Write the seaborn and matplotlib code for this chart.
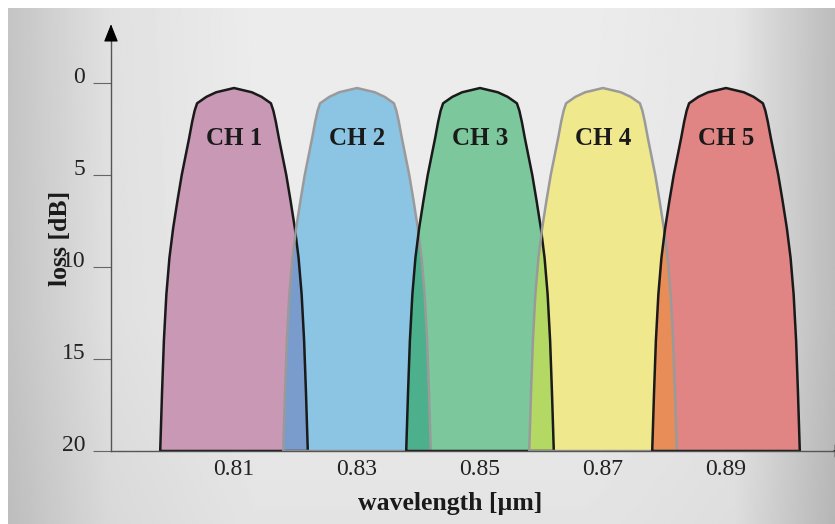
import numpy as np
import pandas as pd
import matplotlib
matplotlib.use("Agg")
import matplotlib.pyplot as plt
import seaborn as sns

# channel data
channels = ["CH 1", "CH 2", "CH 3", "CH 4", "CH 5"]
centers = [0.81, 0.83, 0.85, 0.87, 0.89]
fill_colors = ["#c898b4", "#8cc4e4", "#7cc89c", "#f0e88c", "#e08484"]
edge_colors = ["#1a1a1a", "#9a9a9a", "#1a1a1a", "#9a9a9a", "#1a1a1a"]
overlap_colors = ["#7a9ccc", "#4cb08c", "#b4d864", "#e88c58"]

# filter profile: distance from centre (um) vs loss (dB)
offset_um = [0.0, 0.0029, 0.0045, 0.0060, 0.0064, 0.0068, 0.0073, 0.0079,
             0.0085, 0.0092, 0.0099, 0.0105, 0.0110, 0.0114, 0.0117, 0.0120]
loss_db = [0.27, 0.5, 0.75, 1.1, 1.5, 2.1, 3.0, 4.0,
           5.0, 6.4, 7.9, 9.5, 11.5, 14.0, 16.8, 20.0]

xticks = [0.81, 0.83, 0.85, 0.87, 0.89]
yticks = [0, 5, 10, 15, 20]

sns.set_theme(style="white")
plt.rcParams["font.family"] = ["Liberation Serif", "DejaVu Serif"]

fig = plt.figure(figsize=(8.35, 5.24), dpi=100)
fig.patch.set_facecolor("white")

# gradient background
bg = fig.add_axes([8 / 835, 0, 827 / 835, 516 / 524])
bg.set_axis_off()
gx = np.linspace(0, 1, 400)
hprof = np.interp(gx, [0, 0.12, 0.3, 0.7, 0.88, 1.0], [0.77, 0.88, 0.925, 0.925, 0.9, 0.74])
vprof = np.interp(np.linspace(0, 1, 200), [0, 0.6, 1.0], [1.0, 0.995, 0.965])
bg.imshow(np.outer(vprof, hprof), cmap="gray", vmin=0, vmax=1, aspect="auto",
          interpolation="bilinear")

ax = fig.add_axes([111 / 835, 73 / 524, 724 / 835, 443 / 524])
ax.set_facecolor("none")

off = np.array(offset_um)
loss = np.array(loss_db)

rows = []
for i, (name, c) in enumerate(zip(channels, centers)):
    xs = np.concatenate([c - off[::-1], c + off[1:]])
    ys = np.concatenate([loss[::-1], loss[1:]])
    ax.fill(xs, ys, color=fill_colors[i], lw=0, zorder=2)
    xs_c = np.append(xs, xs[0])
    ys_c = np.append(ys, ys[0])
    rows.append(pd.DataFrame({"wavelength": xs_c, "loss": ys_c, "channel": name}))
    ax.text(c, 3.37, name, ha="center", va="baseline", fontsize=18,
            fontweight="bold", color="#1a1a1a", zorder=6)

# overlap between neighbouring channels
for i in range(len(centers) - 1):
    right_edge = centers[i] + off
    left_edge = centers[i + 1] - off
    ax.fill_betweenx(loss, left_edge, right_edge, where=left_edge < right_edge,
                     interpolate=True, color=overlap_colors[i], lw=0, zorder=3)

outlines = pd.concat(rows, ignore_index=True)
sns.lineplot(data=outlines, x="wavelength", y="loss", hue="channel",
             palette=dict(zip(channels, edge_colors)), sort=False, estimator=None,
             units="channel", legend=False, lw=1.8, ax=ax, zorder=4)

ax.set_xlim(0.79, 0.79 + 724 / 6150)
ax.set_ylim(20, -4.08)

for s in ["top", "right"]:
    ax.spines[s].set_visible(False)
ax.spines["left"].set_bounds(20, -2.5)
ax.spines["left"].set_color("#555555")
ax.spines["bottom"].set_color("#555555")
ax.spines["left"].set_linewidth(1.0)
ax.spines["bottom"].set_linewidth(1.0)
ax.spines["left"].set_zorder(1)
ax.spines["bottom"].set_zorder(5)

ax.set_xticks(xticks)
ax.set_xticklabels([f"{v:.2f}" for v in xticks])
ax.set_yticks(yticks)
ax.set_yticklabels([str(v) for v in yticks])
ax.tick_params(axis="x", direction="in", length=11, width=0.8, color="#666666",
               pad=6, labelsize=17, labelcolor="#222222")
ax.tick_params(axis="y", direction="out", length=13, width=0.8, color="#666666",
               pad=5.5, labelsize=17, labelcolor="#222222")
ax.tick_params(axis="x", bottom=True)
ax.tick_params(axis="y", left=True)
for t in ax.xaxis.get_major_ticks():
    t.tick1line.set_zorder(6)
for lab in ax.get_yticklabels():
    lab.set_verticalalignment("baseline")

# arrow heads
ax.annotate("", xy=(0.79, -3.2), xytext=(0.79, -2.4),
            arrowprops=dict(arrowstyle="-|>,head_length=0.55,head_width=0.22",
                            color="black", lw=0.8, shrinkA=0, shrinkB=0,
                            mutation_scale=20), annotation_clip=False)
ax.annotate("", xy=(0.9105, 20), xytext=(0.9075, 20),
            arrowprops=dict(arrowstyle="-|>,head_length=0.55,head_width=0.22",
                            color="black", lw=0.8, shrinkA=0, shrinkB=0,
                            mutation_scale=20), annotation_clip=False)

ax.set_xlabel("wavelength [µm]", fontsize=18.5, fontweight="bold", color="#1a1a1a")
ax.set_ylabel("loss [dB]", fontsize=18.5, fontweight="bold", color="#1a1a1a")
ax.xaxis.set_label_coords((450 - 111) / 724, (451 - 492) / 443)
ax.yaxis.set_label_coords((72 - 111) / 724, (451 - 238) / 443)

fig.savefig("out.png", dpi=100)
